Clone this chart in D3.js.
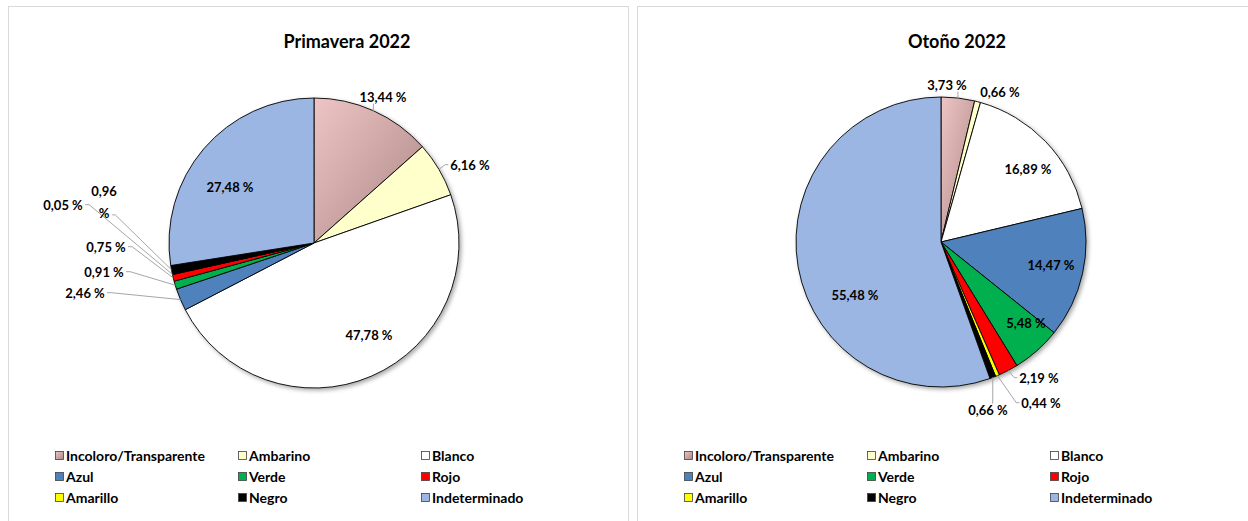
<!DOCTYPE html>
<html>
<head>
<meta charset="utf-8">
<script src="https://cdn.jsdelivr.net/npm/d3@7"></script>
<style>
  html, body { margin: 0; padding: 0; background: #ffffff; }
  svg { display: block; }
  text { font-family: Lato, "Open Sans", sans-serif; fill: #000; }
</style>
</head>
<body>
<svg id="chart" width="1248" height="521"></svg>
<script>
// ---- data ----
const categories = ["Incoloro/Transparente", "Ambarino", "Blanco", "Azul", "Verde", "Rojo", "Amarillo", "Negro", "Indeterminado"];
const primavera = [13.44, 6.16, 47.78, 2.46, 0.91, 0.75, 0.05, 0.96, 27.48];
const otono = [3.73, 0.66, 16.89, 14.47, 5.48, 2.19, 0.44, 0.66, 55.48];
const titles = ["Primavera 2022", "Otoño 2022"];
const colors = ["url(#gradIncoloro)", "#ffffcc", "#ffffff", "#4f81bd", "#00b050", "#ff0000", "#ffff00", "#000000", "#9cb6e3"];

// ---- label layout (offsets from the pie centre, attach side of leader) ----
const layoutPrimavera = [
  {dx: 69, dy: -146, lead: "bottom"},
  {dx: 156, dy: -78, lead: "left"},
  {dx: 55, dy: 92, lead: null},
  {dx: -229, dy: 50, lead: "right"},
  {dx: -210, dy: 29, lead: "right"},
  {dx: -208, dy: 4, lead: "right"},
  {dx: -251, dy: -38, lead: "right"},
  {dx: -210, dy: -44, lead: "rightbottom", wrap: true},
  {dx: -84, dy: -56, lead: null}
];
const layoutOtono = [
  {dx: 6, dy: -157, lead: "bottom"},
  {dx: 59, dy: -150, lead: null},
  {dx: 87, dy: -73, lead: null},
  {dx: 110, dy: 23, lead: null},
  {dx: 85, dy: 81, lead: null},
  {dx: 98, dy: 136, lead: "left"},
  {dx: 100, dy: 161, lead: "left"},
  {dx: 47, dy: 168, lead: "top"},
  {dx: -86, dy: 53, lead: null}
];

const svg = d3.select("#chart");
const defs = svg.append("defs");
const g1 = defs.append("linearGradient").attr("id", "gradIncoloro")
  .attr("x1", "0").attr("y1", "0").attr("x2", "1").attr("y2", "1");
g1.append("stop").attr("offset", "0%").attr("stop-color", "#eec5c4");
g1.append("stop").attr("offset", "100%").attr("stop-color", "#ab8786");
const sh = defs.append("filter").attr("id", "shadow").attr("x", "-10%").attr("y", "-10%").attr("width", "130%").attr("height", "130%");
sh.append("feDropShadow").attr("dx", 2).attr("dy", 2).attr("stdDeviation", 2).attr("flood-color", "#000").attr("flood-opacity", 0.35);

const panels = [
  {x: 8, w: 620, cx: 314, cy: 243, tx: 347, values: primavera, layout: layoutPrimavera, title: titles[0]},
  {x: 637, w: 640, cx: 941, cy: 242, tx: 957, values: otono, layout: layoutOtono, title: titles[1]}
];
const R = 145;
const fmt = v => v.toFixed(2).replace(".", ",") + " %";

const pie = d3.pie().sort(null).value(d => d);
const arc = d3.arc().innerRadius(0).outerRadius(R);

panels.forEach(p => {
  // panel border
  svg.append("rect").attr("x", p.x + 0.5).attr("y", 6.5).attr("width", p.w).attr("height", 540)
    .attr("fill", "#fff").attr("stroke", "#d9d9d9").attr("stroke-width", 1);

  // title
  svg.append("text").attr("x", p.tx).attr("y", 48).attr("text-anchor", "middle")
    .attr("font-size", 18).attr("font-weight", "bold").text(p.title);

  const g = svg.append("g").attr("transform", `translate(${p.cx},${p.cy})`);
  const arcs = pie(p.values);

  g.append("g").attr("filter", "url(#shadow)")
    .selectAll("path").data(arcs).join("path")
    .attr("d", arc)
    .attr("fill", (d, i) => colors[i])
    .attr("stroke", "#000").attr("stroke-width", 0.9).attr("stroke-linejoin", "round");

  // labels
  const lg = g.append("g");
  arcs.forEach((d, i) => {
    const L = p.layout[i];
    let t;
    if (L.wrap) {
      const parts = fmt(d.value).split(" ");
      t = lg.append("text").attr("text-anchor", "middle").attr("font-size", 13).attr("font-weight", "bold");
      t.append("tspan").attr("x", L.dx).attr("y", L.dy).attr("dy", "-0.25em").text(parts[0]);
      t.append("tspan").attr("x", L.dx).attr("y", L.dy).attr("dy", "1.45em").text(parts[1]);
    } else {
      t = lg.append("text").attr("x", L.dx).attr("y", L.dy).attr("dy", "0.36em")
        .attr("text-anchor", "middle").attr("font-size", 13).attr("font-weight", "bold")
        .text(fmt(d.value));
    }
    if (L.lead) {
      const bb = t.node().getBBox();
      const mid = (d.startAngle + d.endAngle) / 2;
      const ax = R * Math.sin(mid), ay = -R * Math.cos(mid);
      let pts;
      if (L.lead === "bottom") {
        pts = [[Math.max(bb.x, Math.min(bb.x + bb.width, ax)), bb.y + bb.height - 1], [ax, ay]];
      } else if (L.lead === "top") {
        pts = [[Math.max(bb.x, Math.min(bb.x + bb.width, ax)), bb.y + 2], [ax, ay]];
      } else if (L.lead === "left") {
        const sx = bb.x - 2, sy = bb.y + bb.height / 2;
        pts = [[sx, sy], [sx - 3, sy], [ax, ay]];
      } else if (L.lead === "right") {
        const sx = bb.x + bb.width + 2, sy = bb.y + bb.height / 2;
        pts = [[sx, sy], [sx + 4, sy], [ax, ay]];
      } else {
        const sx = bb.x + bb.width / 2 + 8, sy = bb.y + bb.height - 6;
        pts = [[sx, sy], [sx + 3, sy], [ax, ay]];
      }
      lg.append("path").attr("d", d3.line()(pts))
        .attr("fill", "none").attr("stroke", "#a6a6a6").attr("stroke-width", 1);
    }
  });

  // legend
  const colX = [47, 230, 413];
  const rowY = [456, 477, 498];
  const leg = svg.append("g");
  categories.forEach((c, i) => {
    const x = p.x + colX[i % 3], y = rowY[Math.floor(i / 3)];
    leg.append("rect").attr("x", x + 0.5).attr("y", y - 4.5).attr("width", 8).attr("height", 8)
      .attr("fill", colors[i]).attr("stroke", "#404040").attr("stroke-width", 0.8);
    leg.append("text").attr("x", x + 11).attr("y", y).attr("dy", "0.36em")
      .attr("font-size", 14).attr("font-weight", "bold").text(c);
  });
});
</script>
</body>
</html>
